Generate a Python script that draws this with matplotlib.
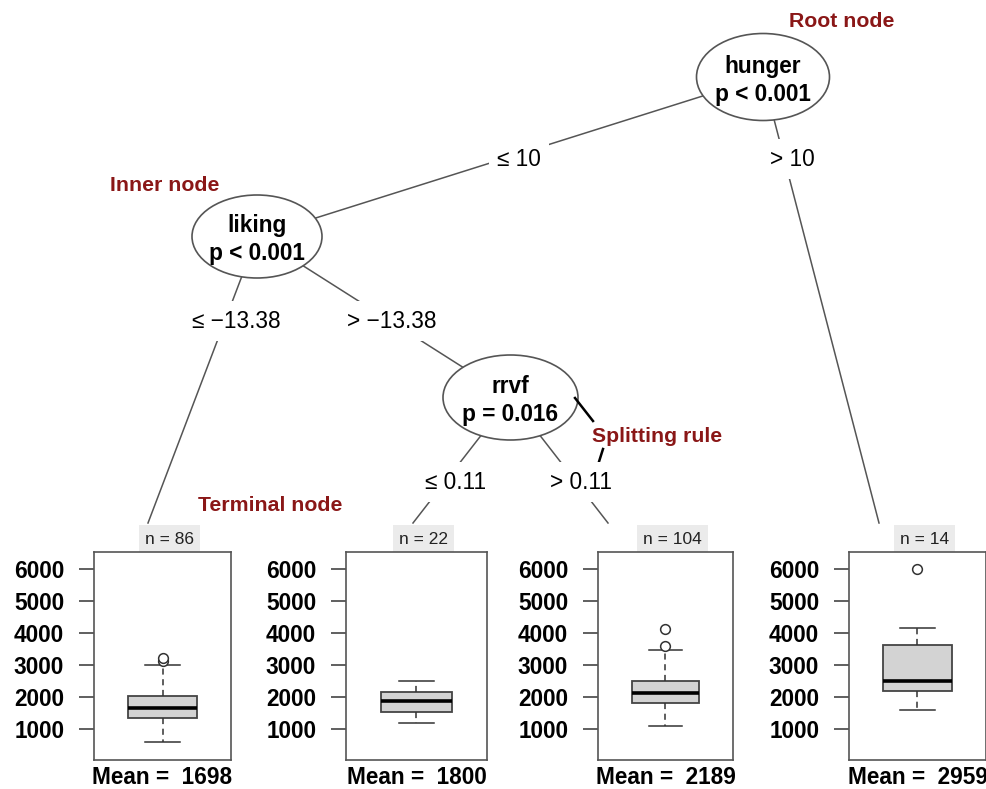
import matplotlib
matplotlib.use("Agg")
import matplotlib.pyplot as plt
from matplotlib.patches import Ellipse

plt.rcParams['font.family'] = ['Liberation Sans', 'DejaVu Sans']

##### Tree content

node_vars = ['hunger', 'liking', 'rrvf']
node_p = ['p < 0.001', 'p < 0.001', 'p = 0.016']
edge_labels = ['\u2264 10', '> 10', '\u2264 \u221213.38', '> \u221213.38', '\u2264 0.11', '> 0.11']

##### Terminal node data (boxplot summaries)

n_obs = [86, 22, 104, 14]
means = [1698, 1800, 2189, 2959]
q1 = [1344, 1520, 1820, 2180]
med = [1665, 1860, 2130, 2490]
q3 = [2020, 2150, 2500, 3625]
whislo = [600, 1200, 1090, 1600]
whishi = [2990, 2500, 3480, 4170]
fliers = [[3120, 3230], [], [3600, 4125], [5990]]
y_ticks = [1000, 2000, 3000, 4000, 5000, 6000]

##### Layout (pixel space of a 987x789 canvas)

W, H = 987, 789
red = '#8a1717'
grey = '#555555'
fs = 16.3

node_xy = [(763, 77), (257, 236.5), (510.5, 397.5)]
node_wh = [(133, 87), (130, 83), (135, 85)]
term_top = [(148, 523), (413, 523), (608, 523), (879, 523)]
# (parent, child endpoint, label position)
edges = [
    (node_xy[0], node_xy[1], (519, 159)),
    (node_xy[0], term_top[3], (792, 159)),
    (node_xy[1], term_top[0], (236, 321)),
    (node_xy[1], node_xy[2], (392, 321)),
    (node_xy[2], term_top[1], (456, 482)),
    (node_xy[2], term_top[2], (581, 482)),
]
panel_x = [(94, 231), (346, 487), (598, 733), (849, 986)]
panel_y = (552, 760)

fig = plt.figure(figsize=(W / 100, H / 100), dpi=100)
ax = fig.add_axes([0, 0, 1, 1])
ax.set_xlim(0, W)
ax.set_ylim(H, 0)
ax.axis('off')

# edges with split labels
for (p, c, lp), lab in zip(edges, edge_labels):
    ax.plot([p[0], c[0]], [p[1], c[1]], color=grey, lw=1.1, zorder=1)
    ax.text(lp[0], lp[1], lab, ha='center', va='center', fontsize=fs, zorder=3,
            bbox=dict(facecolor='white', edgecolor='none', pad=6))

# inner nodes
for (x, y), (w, h), v, p in zip(node_xy, node_wh, node_vars, node_p):
    ax.add_patch(Ellipse((x, y), w, h, facecolor='white', edgecolor=grey, lw=1.2, zorder=2))
    ax.text(x, y - 11, v, ha='center', va='center', fontsize=fs, fontweight='bold', zorder=3)
    ax.text(x, y + 17, p, ha='center', va='center', fontsize=fs, fontweight='bold', zorder=3)

# annotations
ax.text(842, 21, 'Root node', ha='center', va='center', fontsize=fs - 1, fontweight='bold', color=red)
ax.text(165, 185, 'Inner node', ha='center', va='center', fontsize=fs - 1, fontweight='bold', color=red)
ax.text(270, 505, 'Terminal node', ha='center', va='center', fontsize=fs - 1, fontweight='bold', color=red)
ax.text(657, 436, 'Splitting rule', ha='center', va='center', fontsize=fs - 1, fontweight='bold', color=red)
ax.plot([575, 593], [398, 421], color='black', lw=1.8)
ax.plot([603, 597], [449, 468], color='black', lw=1.8)

# terminal node boxplots
for i, (x0, x1) in enumerate(panel_x):
    bax = fig.add_axes([x0 / W, 1 - panel_y[1] / H, (x1 - x0) / W, (panel_y[1] - panel_y[0]) / H])
    stats = [dict(q1=q1[i], med=med[i], q3=q3[i], whislo=whislo[i], whishi=whishi[i],
                  fliers=fliers[i])]
    bax.bxp(stats, positions=[1], widths=0.5, capwidths=0.25, patch_artist=True,
            showfliers=True,
            boxprops=dict(facecolor='#d3d3d3', edgecolor='#444444', lw=1.3),
            medianprops=dict(color='black', lw=2.6),
            whiskerprops=dict(color='#333333', lw=1.1, linestyle=(0, (4, 3))),
            capprops=dict(color='#333333', lw=1.1),
            flierprops=dict(marker='o', markerfacecolor='white', markeredgecolor='#333333',
                            markersize=7, markeredgewidth=1.1))
    bax.set_xlim(0.5, 1.5)
    bax.set_ylim(30, 6530)
    bax.set_xticks([])
    bax.set_yticks(y_ticks, labels=[str(t) for t in y_ticks], fontweight='bold', fontsize=fs)
    bax.tick_params(axis='y', length=10.5, width=1.2, pad=11, color='#444444')
    for s in bax.spines.values():
        s.set_color('#555555')
        s.set_linewidth(1.2)

    cx = (x0 + x1) / 2
    ax.text(cx + 7, 539, 'n = %d' % n_obs[i], ha='center', va='center', fontsize=12.5,
            color='#222222', bbox=dict(facecolor='#ebebeb', edgecolor='none', pad=4.5))
    ax.text(cx, 777, 'Mean =  %d' % means[i], ha='center', va='center', fontsize=fs,
            fontweight='bold')

fig.savefig('out.png', dpi=100)
